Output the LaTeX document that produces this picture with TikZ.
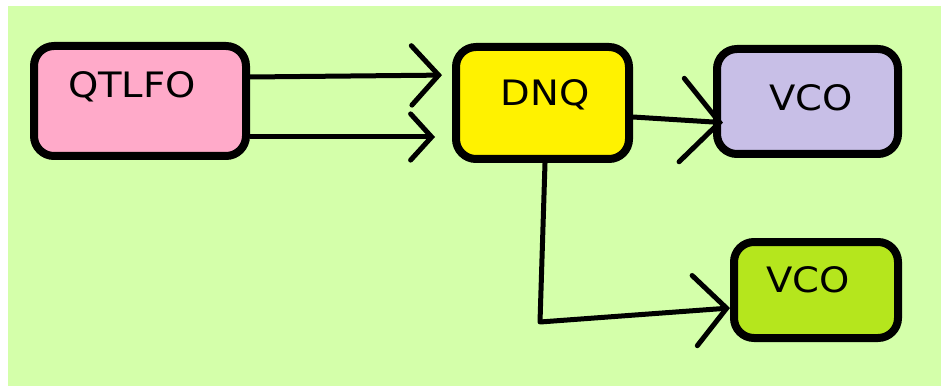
\documentclass[tikz,border=0pt]{standalone}
\usepackage{fontspec}
\setmainfont{DejaVu Sans}
\usetikzlibrary{arrows.meta}
\definecolor{bggreen}{HTML}{D4FFAA}
\definecolor{rose}{HTML}{FFAAC9}
\definecolor{yel}{HTML}{FFF200}
\definecolor{lav}{HTML}{C8BFE7}
\definecolor{lime}{HTML}{B5E61D}
\tikzset{
  box/.style={draw=black, line width=8pt, rounded corners=20pt, inner sep=0pt},
  lbl/.style={inner sep=0pt, font=\fontsize{35}{35}\selectfont},
  conn/.style={line width=5pt, line join=round},
  tipA/.style={-{Straight Barb[length=#1, width=2.2*#1, line cap=round]}},
}
\newcommand{\wide}[1]{\scalebox{1.1}[1]{#1}}
\begin{document}
\begin{tikzpicture}[x=1pt, y=-1pt]
\useasboundingbox (0,0) rectangle (941,387);
\fill[white] (0,0) rectangle (941,387);
\fill[bggreen] (8,6) rectangle (941,386);
% boxes
\node[box, fill=rose, minimum width=212pt, minimum height=110pt] (q) at (140,101) {};
\node[box, fill=yel, minimum width=173pt, minimum height=112pt] (d) at (542.5,103) {};
\node[box, fill=lav, minimum width=181pt, minimum height=105pt] (v1) at (807.5,101.5) {};
\node[box, fill=lime, minimum width=164pt, minimum height=96pt] (v2) at (816,290) {};
% labels
\node[lbl] (qt) at (132,87) {\wide{QTLFO}};
\node[lbl] (dt) at (545,95) {\wide{DNQ}};
\node[lbl] (v1t) at (811,98) {\wide{VCO}};
\node[lbl] (v2t) at (808,280) {\wide{VCO}};
% connectors
\draw[conn, tipA=27pt, shorten >=10pt] (q.east |- 0,77) -- (d.west |- 0,75);
\draw[conn, tipA=21pt, shorten >=17pt] (q.east |- 0,137) -- (d.west |- 0,137);
\draw[conn, tipA=38pt, shorten >=-10pt] (d.east |- 0,117) -- (v1.west |- 0,122);
\coordinate (bend) at (540,322);
\draw[conn, tipA=32pt] (d.south -| 545,0) -- (bend) -- (v2.west |- 0,308);
\end{tikzpicture}
\end{document}
